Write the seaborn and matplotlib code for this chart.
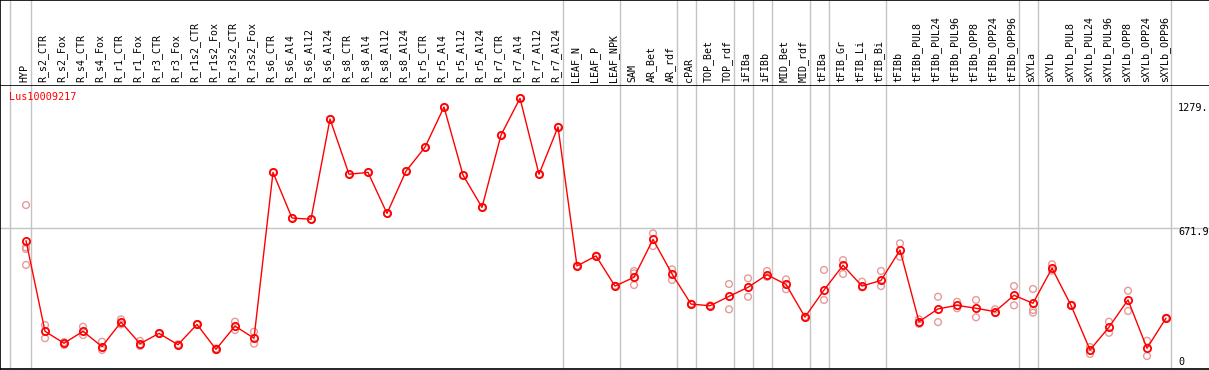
import numpy as np
import pandas as pd
import matplotlib
matplotlib.use("Agg")
import matplotlib.pyplot as plt
import seaborn as sns

# ---------------- data ----------------
categories = [
    "HYP", "R_s2_CTR", "R_s2_Fox", "R_s4_CTR", "R_s4_Fox", "R_r1_CTR", "R_r1_Fox",
    "R_r3_CTR", "R_r3_Fox", "R_r1s2_CTR", "R_r1s2_Fox", "R_r3s2_CTR", "R_r3s2_Fox",
    "R_s6_CTR", "R_s6_Al4", "R_s6_Al12", "R_s6_Al24", "R_s8_CTR", "R_s8_Al4",
    "R_s8_Al12", "R_s8_Al24", "R_r5_CTR", "R_r5_Al4", "R_r5_Al12", "R_r5_Al24",
    "R_r7_CTR", "R_r7_Al4", "R_r7_Al12", "R_r7_Al24", "LEAF_N", "LEAF_P", "LEAF_NPK",
    "SAM", "AR_Bet", "AR_rdf", "cPAR", "TOP_Bet", "TOP_rdf", "iFIBa", "iFIBb",
    "MID_Bet", "MID_rdf", "tFIBa", "tFIB_Gr", "tFIB_Li", "tFIB_Bi", "tFIBb",
    "tFIBb_PUL8", "tFIBb_PUL24", "tFIBb_PUL96", "tFIBb_OPP8", "tFIBb_OPP24",
    "tFIBb_OPP96", "sXYLa", "sXYLb", "sXYLb_PUL8", "sXYLb_PUL24", "sXYLb_PUL96",
    "sXYLb_OPP8", "sXYLb_OPP24", "sXYLb_OPP96",
]

mean_values = [
    613, 180, 123, 180, 107, 224, 121, 170, 116, 213, 94, 205, 147,
    939, 721, 715, 1194, 930, 939, 743, 945, 1059, 1251, 926, 772,
    1117, 1293, 930, 1156, 492, 540, 396,
    438, 619, 454, 310, 302, 347, 390, 450,
    404, 248, 377, 495, 396, 423, 568,
    226, 287, 304, 290, 274, 352,
    314, 481, 304, 91, 200, 330, 99, 243,
]

replicate_values = [
    [783, 581, 573, 497], [210, 147], [128, 115], [202, 162], [130, 91],
    [237, 213], [134, 110], [172, 168], [118, 114], [215, 211], [98, 90],
    [226, 186], [178, 121],
    [939], [721], [715], [1194], [930], [939], [743], [945], [1059], [1251],
    [926], [772], [1117], [1293], [930], [1156],
    [494, 490], [542, 538], [398, 394],
    [468, 457, 401], [648, 587], [476, 425], [312, 308], [304, 300], [406, 285],
    [433, 345], [468, 440], [428, 381], [250, 246], [473, 330], [520, 454],
    [417, 390], [468, 396], [600, 536],
    [237, 215], [345, 224], [321, 290], [330, 247], [285, 268], [396, 304],
    [382, 282, 269], [500, 470], [306, 302], [72, 105], [226, 173],
    [374, 277], [135, 62], [245, 241],
]

group_sizes = [1, 28, 3, 3, 1, 2, 1, 1, 2, 1, 3, 7, 1, 7]

gene_label = "Lus10009217"
axis_values = [1279.0, 671.9, 0.0]
axis_labels = ["1279.", "671.9", "0"]

# ---------------- figure ----------------
sns.set_theme(style="white")
plt.rcParams["font.family"] = ["DejaVu Sans Mono", "DejaVu Sans"]

W, H = 1209, 370
fig = plt.figure(figsize=(W / 100, H / 100), dpi=100)
fig.patch.set_facecolor("white")

ax = fig.add_axes([0, 1 / H, 1, 284 / H])
axh = fig.add_axes([0, 285 / H, 1, 85 / H])

x0, step = 26.0, 19.0
xlim = (-x0 / step, (W - x0) / step)
ylim = (0, 284 / 0.2094)

positions = np.arange(len(categories))
mean_df = pd.DataFrame({"pos": positions, "value": mean_values, "category": categories})
rep_rows = []
for p, reps in zip(positions, replicate_values):
    for v in reps:
        rep_rows.append({"pos": p, "value": v})
rep_df = pd.DataFrame(rep_rows)

grid_color = "#c4c4c4"

# group separator lines
bounds = [-0.83]
acc = -1
for g in group_sizes:
    acc += g
    bounds.append(acc + 0.26)
for b in bounds:
    ax.axvline(b, color=grid_color, lw=1.0, zorder=0)
    axh.axvline(b, color=grid_color, lw=1.0, zorder=0)

ax.axhline(axis_values[1], color=grid_color, lw=1.0, zorder=0)

# replicates
sns.scatterplot(data=rep_df, x="pos", y="value", ax=ax, s=24, marker="o",
                legend=False, zorder=2)
coll = ax.collections[-1]
coll.set_facecolor("none")
coll.set_edgecolor("#e69a9a")
coll.set_linewidth(1.0)

# mean line
sns.lineplot(data=mean_df, x="pos", y="value", ax=ax, color="#ff0000", lw=1.0,
             marker="o", markersize=5.2, markerfacecolor="none",
             markeredgecolor="#ff0000", markeredgewidth=1.3, zorder=3,
             legend=False)

ax.set_xlim(*xlim)
ax.set_ylim(*ylim)
ax.set_xticks([])
ax.set_yticks([])
ax.set_xlabel("")
ax.set_ylabel("")
for s in ["left", "bottom", "top"]:
    ax.spines[s].set_visible(True)
    ax.spines[s].set_color("black")
    ax.spines[s].set_linewidth(1.2)
ax.spines["right"].set_visible(False)

ax.text(9.5 / W, 1 - (97.5 - 85) / 284, gene_label, transform=ax.transAxes,
        color="#ff0000", fontsize=7.3, ha="left", va="center")

# right side value labels
label_px = [108, 232, 362]
lx = (1178 - x0) / step
for lab, py in zip(axis_labels, label_px):
    ax.text(lx, (369 - py) / 0.2094, lab, fontsize=7.3, color="black",
            ha="left", va="center", clip_on=False)

# header
axh.set_xlim(*xlim)
axh.set_ylim(0, 1)
axh.set_xticks([])
axh.set_yticks([])
for s in ["left", "top"]:
    axh.spines[s].set_visible(True)
    axh.spines[s].set_color("black")
    axh.spines[s].set_linewidth(1.2)
axh.spines["right"].set_visible(False)
axh.spines["bottom"].set_visible(False)
for p, c in zip(positions, categories):
    axh.text(p - 0.1, 2.5 / 85, c, rotation=90, ha="center", va="bottom",
             fontsize=7.2, color="black")

fig.savefig("out.png", dpi=100)
